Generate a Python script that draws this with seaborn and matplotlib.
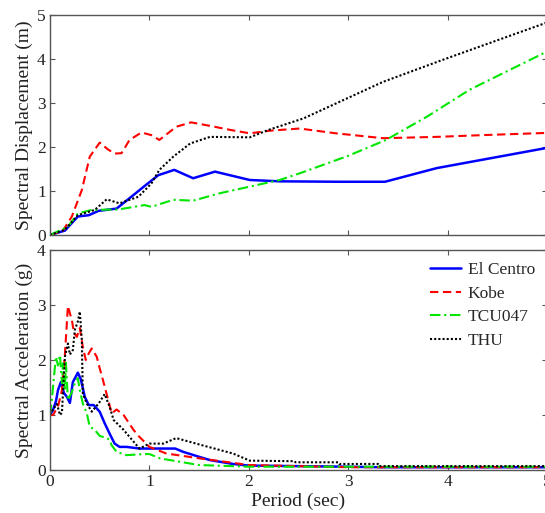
import numpy as np
import pandas as pd
import matplotlib
matplotlib.use("Agg")
import matplotlib.pyplot as plt
import seaborn as sns

# ---------------- data: spectral displacement (m) ----------------
sd_elc_T = [0, 0.15, 0.28, 0.39, 0.49, 0.67, 0.78, 0.95, 1.09, 1.25, 1.44, 1.66, 2.01, 2.31, 2.91, 3.37, 3.89, 5.0]
sd_elc = [0, 0.10, 0.42, 0.45, 0.55, 0.60, 0.80, 1.11, 1.36, 1.48, 1.29, 1.44, 1.25, 1.22, 1.21, 1.21, 1.52, 1.98]

sd_kobe_T = [0, 0.13, 0.22, 0.32, 0.40, 0.50, 0.58, 0.65, 0.72, 0.80, 0.92, 1.02, 1.10, 1.27, 1.42, 1.61, 1.81, 2.01, 2.21, 2.51, 2.88, 3.35, 3.89, 4.35, 5.0]
sd_kobe = [0, 0.10, 0.42, 1.02, 1.78, 2.10, 1.95, 1.85, 1.86, 2.16, 2.33, 2.27, 2.16, 2.46, 2.56, 2.48, 2.39, 2.31, 2.37, 2.42, 2.31, 2.20, 2.23, 2.27, 2.32]

sd_tcu_T = [0, 0.18, 0.28, 0.42, 0.69, 0.95, 1.02, 1.24, 1.44, 1.71, 2.01, 2.31, 2.51, 3.0, 3.38, 3.8, 4.22, 5.0]
sd_tcu = [0, 0.19, 0.49, 0.57, 0.58, 0.68, 0.64, 0.80, 0.78, 0.95, 1.10, 1.25, 1.40, 1.80, 2.16, 2.70, 3.30, 4.17]

sd_thu_T = [0, 0.15, 0.28, 0.45, 0.57, 0.70, 0.89, 1.02, 1.10, 1.24, 1.41, 1.61, 2.01, 2.20, 2.55, 3.35, 3.95, 5.0]
sd_thu = [0, 0.12, 0.45, 0.57, 0.81, 0.72, 0.87, 1.17, 1.48, 1.78, 2.08, 2.23, 2.22, 2.39, 2.65, 3.48, 3.98, 4.83]

# ---------------- data: spectral acceleration (g) ----------------
sa_elc_T = [0, 0.03, 0.06, 0.08, 0.11, 0.14, 0.17, 0.20, 0.23, 0.26, 0.28, 0.31, 0.35, 0.39, 0.44, 0.50, 0.55, 0.60, 0.65, 0.70, 0.77, 0.90, 1.0, 1.26, 1.34, 1.50, 1.61, 1.84, 2.0, 2.5, 3.0, 3.35, 4.0, 5.0]
sa_elc = [1.0, 1.09, 1.25, 1.45, 1.60, 1.40, 1.33, 1.22, 1.60, 1.70, 1.77, 1.65, 1.33, 1.18, 1.18, 1.06, 0.85, 0.66, 0.48, 0.42, 0.42, 0.39, 0.39, 0.39, 0.33, 0.24, 0.18, 0.11, 0.08, 0.07, 0.06, 0.05, 0.05, 0.05]

sa_kobe_T = [0, 0.03, 0.08, 0.12, 0.15, 0.18, 0.20, 0.22, 0.24, 0.27, 0.30, 0.33, 0.36, 0.39, 0.42, 0.47, 0.50, 0.55, 0.62, 0.67, 0.74, 0.84, 0.89, 1.0, 1.17, 1.51, 1.84, 2.0, 2.5, 3.0, 3.35, 4.0, 5.0]
sa_kobe = [1.0, 1.0, 1.15, 1.45, 2.10, 2.98, 2.85, 2.73, 2.50, 2.42, 2.58, 2.24, 2.00, 2.12, 2.21, 2.06, 1.85, 1.52, 1.03, 1.10, 1.00, 0.73, 0.62, 0.42, 0.30, 0.21, 0.13, 0.09, 0.07, 0.05, 0.05, 0.05, 0.05]

sa_tcu_T = [0, 0.02, 0.04, 0.06, 0.08, 0.10, 0.12, 0.13, 0.15, 0.16, 0.18, 0.22, 0.25, 0.28, 0.30, 0.33, 0.37, 0.40, 0.45, 0.50, 0.57, 0.60, 0.62, 0.67, 0.77, 0.95, 1.0, 1.11, 1.5, 2.0, 2.5, 3.0, 4.0, 5.0]
sa_tcu = [1.0, 1.30, 1.70, 2.06, 1.90, 2.09, 1.58, 1.94, 1.45, 1.95, 1.27, 1.42, 1.58, 1.67, 1.45, 1.21, 1.03, 0.79, 0.73, 0.62, 0.58, 0.55, 0.45, 0.33, 0.27, 0.29, 0.29, 0.21, 0.09, 0.06, 0.06, 0.06, 0.06, 0.06]

sa_thu_T = [0, 0.03, 0.07, 0.10, 0.12, 0.15, 0.18, 0.20, 0.23, 0.25, 0.28, 0.30, 0.32, 0.33, 0.37, 0.42, 0.49, 0.55, 0.60, 0.64, 0.74, 0.90, 1.0, 1.14, 1.27, 1.51, 1.84, 2.01, 2.46, 2.47, 2.90, 2.91, 3.30, 3.31, 4.0, 5.0]
sa_thu = [1.0, 1.10, 1.20, 1.00, 1.04, 2.06, 2.30, 2.10, 2.18, 2.55, 2.70, 2.88, 2.37, 1.39, 1.21, 1.06, 1.21, 1.38, 1.15, 0.91, 0.73, 0.39, 0.48, 0.48, 0.58, 0.46, 0.30, 0.17, 0.16, 0.14, 0.14, 0.11, 0.11, 0.07, 0.07, 0.07]

names = ["El Centro", "Kobe", "TCU047", "THU"]
colors = ["#0000ff", "#ff0000", "#00e600", "#000000"]
styles = ["-", (0, (4, 2.2)), (0, (5, 1.8, 1, 1.8)), (0, (1, 1))]
widths = [1.8, 1.5, 1.5, 1.5]

sd_sets = [(sd_elc_T, sd_elc), (sd_kobe_T, sd_kobe), (sd_tcu_T, sd_tcu), (sd_thu_T, sd_thu)]
sa_sets = [(sa_elc_T, sa_elc), (sa_kobe_T, sa_kobe), (sa_tcu_T, sa_tcu), (sa_thu_T, sa_thu)]

sns.set_style("ticks")
plt.rcParams["font.family"] = ["Liberation Serif", "DejaVu Serif"]

W, H = 545, 513
fig = plt.figure(figsize=(W / 100, H / 100), dpi=100)
fig.patch.set_facecolor("white")
left = 50 / W
width = 497 / W
ax1 = fig.add_axes([left, 1 - 235 / H, width, 220 / H])
ax2 = fig.add_axes([left, 1 - 470 / H, width, 220 / H])

for ax, sets in ((ax1, sd_sets), (ax2, sa_sets)):
    for name, (T, v), c, ls, lw in zip(names, sets, colors, styles, widths):
        df = pd.DataFrame({"Period": T, "Value": v})
        sns.lineplot(data=df, x="Period", y="Value", ax=ax, color=c, linestyle=ls,
                     linewidth=lw, estimator=None, sort=False, label=name)

spine_col = "#555555"
for ax in (ax1, ax2):
    ax.set_xlim(0, 5)
    ax.set_xticks([0, 1, 2, 3, 4, 5])
    ax.tick_params(direction="in", length=3.5, width=0.8, colors=spine_col,
                   labelcolor="#222222", labelsize=12.5, top=True, right=True, pad=3)
    for s in ax.spines.values():
        s.set_visible(True)
        s.set_color(spine_col)
        s.set_linewidth(1.0)
    ax.set_facecolor("white")

ax1.set_ylim(0, 5)
ax1.set_yticks([0, 1, 2, 3, 4, 5])
ax1.set_xticklabels([])
ax1.set_xlabel("")
ax1.set_ylabel("Spectral Displacement (m)", fontsize=14, labelpad=3, color="#222222")
ax1.get_legend().remove()

ax2.set_ylim(0, 4)
ax2.set_yticks([0, 1, 2, 3, 4])
ax2.set_xlabel("Period (sec)", fontsize=14, labelpad=2, color="#222222")
ax2.set_ylabel("Spectral Acceleration (g)", fontsize=14, labelpad=3, color="#222222")
ax2.legend(loc="upper right", bbox_to_anchor=(1.0, 1.0), frameon=False, fontsize=12.5,
           handlelength=1.75, handletextpad=0.4, labelspacing=0.42, borderpad=0.6,
           borderaxespad=0.1)

fig.savefig("out.png", dpi=100, facecolor="white")
